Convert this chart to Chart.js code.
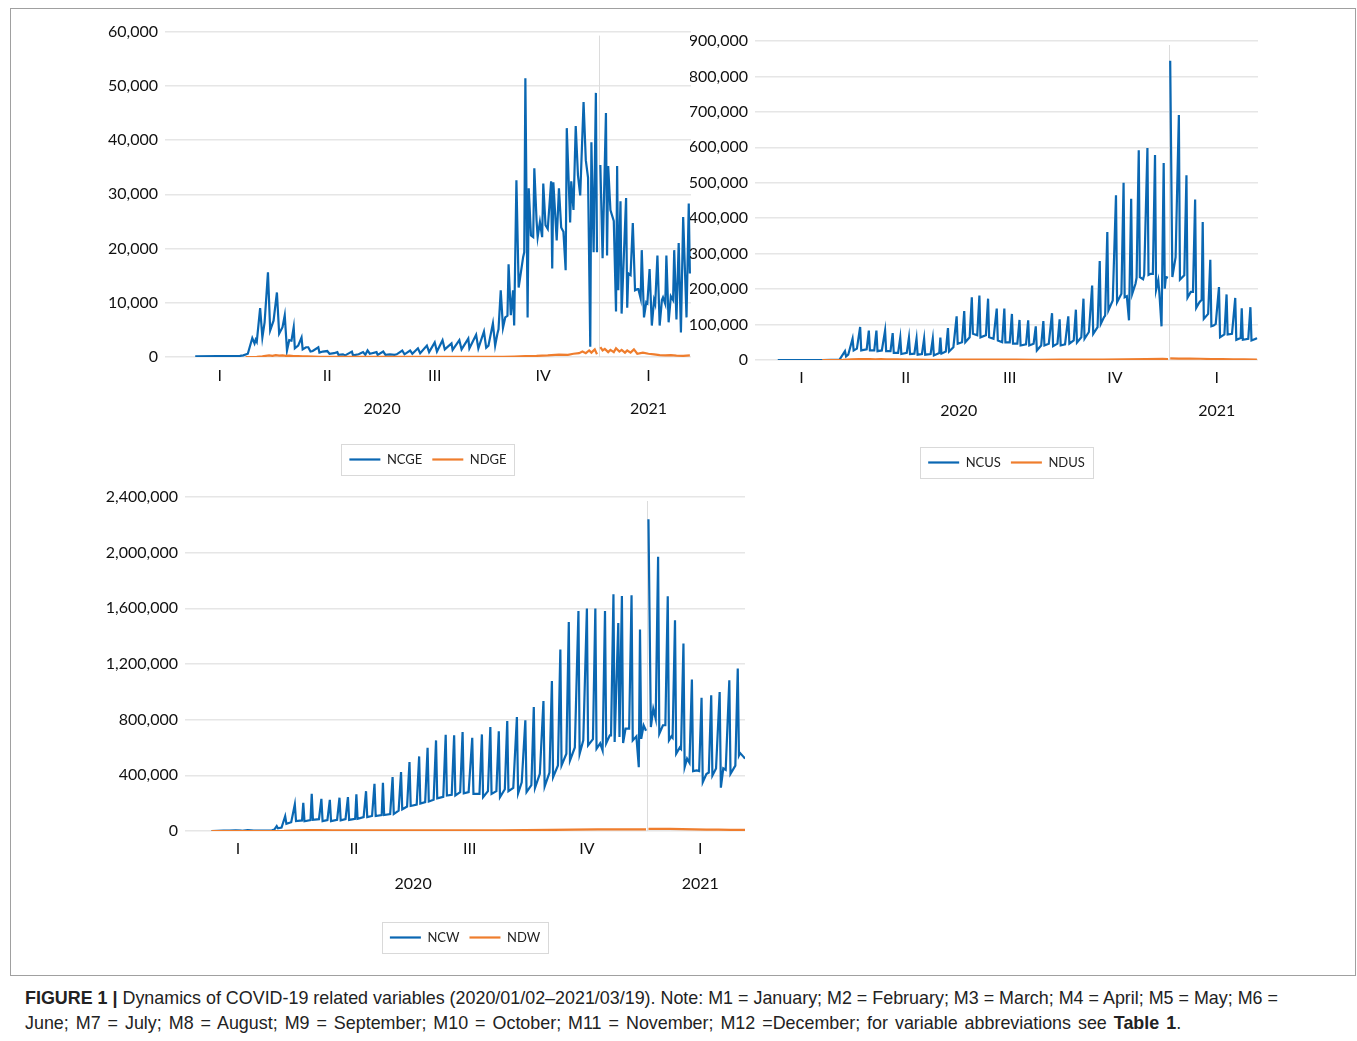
<!DOCTYPE html>
<html><head><meta charset="utf-8">
<script src="https://cdn.jsdelivr.net/npm/chart.js@4.4.1/dist/chart.umd.min.js"></script>
<style>
html,body{margin:0;padding:0;background:#fff;}
#wrap{position:relative;width:1357px;height:1041px;overflow:hidden;background:#fff;}
#frame{position:absolute;left:10px;top:8px;width:1346px;height:968px;border:1px solid #a0a0a0;box-sizing:border-box;}
canvas{position:absolute;}
#cap{position:absolute;left:25px;top:986px;font-family:'Liberation Sans',Arial,sans-serif;font-size:17.9px;line-height:25px;color:#222;white-space:nowrap;}
#cap .l2{word-spacing:2px;}
</style></head><body>
<div id="wrap">
<div id="frame"></div>
<canvas id="c1" width="680" height="461" style="left:20px;top:15px"></canvas>
<canvas id="c2" width="580" height="459" style="left:690px;top:20px"></canvas>
<canvas id="c3" width="740" height="474" style="left:20px;top:480px"></canvas>
<div id="cap"><b>FIGURE 1 |</b> Dynamics of COVID-19 related variables (2020/01/02–2021/03/19). Note: M1 = January; M2 = February; M3 = March; M4 = April; M5 = May; M6 =<br><span class="l2">June; M7 = July; M8 = August; M9 = September; M10 = October; M11 = November; M12 =December; for variable abbreviations see <b>Table 1</b>.</span></div>
</div>
<script>
// ---- tick labels / categories (x = observation index, 0 = 2020/01/02, last = 2021/03/19) ----
const quarterTicks = [22, 118, 214, 311, 405];
const quarterLabels = ['I', 'II', 'III', 'IV', 'I'];
const yearTicks = [167, 405];
const yearLabels = ['2020', '2021'];
const yearBoundary = 360.5;

// ---- series values: [observation index, value] ----
const NCGE = [[0,100],[40,200],[43,300],[47,600],[51,3500],[53,2500],[54,3200],[55,2800],[58,9000],[60,3600],[62,6400],[65,15600],[67,4900],[70,6700],[73,11900],[75,4300],[78,5500],[80,7700],[82,1200],[84,3100],[86,3000],[88,5500],[89,1600],[92,2100],[95,3600],[96,1400],[99,1800],[101,1800],[103,1000],[105,1100],[110,1800],[111,800],[114,1000],[118,1100],[120,600],[124,700],[127,900],[128,400],[132,500],[134,300],[140,1000],[141,300],[146,500],[150,900],[152,400],[154,1200],[156,600],[158,700],[162,900],[163,400],[168,1000],[170,400],[174,500],[178,400],[180,500],[185,1200],[187,500],[192,1200],[194,600],[199,1600],[201,700],[207,2100],[209,900],[214,2700],[216,1000],[221,3100],[223,1400],[229,2500],[230,1300],[236,3100],[238,1400],[244,3400],[245,1600],[251,4100],[253,1600],[258,4700],[260,1700],[262,2100],[266,6200],[268,2100],[270,4300],[271,5100],[273,12300],[275,5400],[277,7300],[279,7600],[280,17100],[282,7700],[284,12300],[285,5800],[287,32600],[289,12800],[293,18400],[294,19300],[295,51400],[297,7300],[298,31100],[300,22400],[302,22100],[303,34800],[305,25200],[306,22100],[308,24900],[310,22100],[311,32000],[313,24300],[315,23600],[318,32400],[319,16300],[320,32200],[323,21500],[325,31100],[327,23900],[329,23100],[331,16000],[332,42200],[335,24800],[336,32400],[338,27100],[340,42600],[342,33500],[344,29800],[347,47000],[349,36300],[351,33100],[353,1900],[354,39600],[356,19300],[358,48700],[359,19300],[360.5,null],[362,35400],[364,18200],[367,45000],[368,18700],[369,35200],[371,27100],[374,25100],[376,8400],[377,35200],[378,12300],[380,28700],[381,8000],[385,29300],[386,9100],[387,15400],[389,15100],[391,24700],[393,12300],[395,12500],[396,12500],[398,10800],[399,19700],[401,7300],[403,10100],[404,9900],[406,16200],[408,5800],[410,10500],[411,9800],[413,18700],[415,5800],[417,10500],[418,11000],[420,9800],[421,18700],[423,6400],[425,11200],[427,10500],[428,19700],[430,6900],[432,21000],[434,4500],[436,25800],[439,7300],[441,28300],[442,15400]];
const NDGE = [[45,0],[55,30],[60,100],[63,200],[66,300],[69,200],[72,350],[75,250],[78,300],[81,200],[84,250],[88,180],[92,150],[96,130],[100,100],[106,70],[112,50],[120,30],[135,10],[160,5],[200,5],[240,8],[260,15],[275,40],[285,80],[295,150],[305,200],[315,300],[325,450],[333,400],[338,600],[343,700],[346,1000],[349,700],[352,1200],[354,800],[357,1400],[359,500],[360.5,null],[362,1800],[364,1200],[366,1500],[369,900],[371,1300],[374,900],[376,1600],[379,1000],[381,1300],[384,800],[386,1200],[389,800],[392,1400],[395,600],[400,800],[405,600],[410,500],[415,350],[420,300],[425,350],[430,250],[436,200],[442,300]];

const NCUS = [[0,0],[41,0],[57,1000],[62,25000],[63,10000],[65,15000],[69,60000],[70,27000],[73,32000],[76,93000],[77,27000],[82,30000],[84,83000],[85,27000],[89,27000],[91,83000],[92,25000],[96,27000],[99,83000],[100,25000],[104,25000],[106,76000],[107,20000],[111,20000],[113,63000],[114,17000],[119,20000],[121,63000],[122,17000],[126,18000],[128,60000],[129,15000],[133,17000],[135,60000],[136,15000],[141,17000],[143,60000],[144,13000],[149,20000],[150,63000],[151,18000],[155,24000],[157,90000],[158,24000],[162,36000],[165,123000],[166,46000],[170,50000],[172,138000],[173,50000],[177,64000],[179,177000],[180,74000],[184,70000],[186,182000],[187,64000],[192,70000],[194,173000],[195,64000],[199,60000],[202,145000],[203,55000],[207,50000],[209,145000],[210,50000],[214,50000],[216,130000],[217,46000],[221,46000],[223,113000],[224,41000],[229,44000],[231,112000],[232,41000],[236,46000],[238,95000],[239,27000],[243,41000],[245,110000],[246,41000],[250,46000],[253,132000],[254,39000],[258,46000],[260,115000],[261,41000],[265,44000],[268,123000],[269,46000],[273,55000],[275,142000],[276,49000],[280,64000],[282,173000],[283,60000],[287,79000],[290,210000],[291,74000],[295,93000],[297,279000],[298,102000],[301,121000],[302,125000],[304,361000],[305,140000],[309,168000],[312,465000],[313,163000],[317,187000],[319,500000],[320,177000],[322,180000],[324,112000],[326,455000],[327,187000],[330,215000],[331,232000],[333,592000],[334,234000],[337,228000],[338,240000],[341,598000],[342,240000],[344,243000],[346,243000],[348,578000],[349,198000],[351,225000],[352,190000],[354,95000],[356,556000],[357,201000],[358,234000],[360,232000],[360.5,null],[362,844000],[364,234000],[367,290000],[370,691000],[371,227000],[375,239000],[377,521000],[378,176000],[381,192000],[383,192000],[385,453000],[386,147000],[389,163000],[391,170000],[392,389000],[393,116000],[397,130000],[399,283000],[400,95000],[402,97000],[404,102000],[407,206000],[408,64000],[412,72000],[414,185000],[415,72000],[419,74000],[422,175000],[423,57000],[427,62000],[428,146000],[429,57000],[434,60000],[436,149000],[437,55000],[441,60000],[442,62000]];
const NDUS = [[41,0],[50,20],[60,300],[68,1500],[75,2500],[80,2200],[85,2800],[90,2000],[95,2300],[100,1800],[110,1500],[120,1000],[130,800],[140,600],[150,600],[160,900],[175,1200],[190,1100],[205,900],[220,800],[240,700],[260,800],[280,900],[300,1300],[320,2000],[340,2500],[355,3000],[360,2800],[360.5,null],[362,4500],[370,4000],[380,3800],[390,3500],[400,2800],[410,2200],[420,1800],[430,1500],[442,1300]];

const NCW = [[0,0],[10,3000],[15,2000],[20,4000],[25,2000],[30,6000],[35,3000],[45,3000],[50,5000],[52,10000],[54,35000],[55,20000],[58,25000],[61,106000],[62,52000],[66,63000],[69,191000],[70,71000],[75,76000],[76,203000],[77,70000],[82,78000],[83,267000],[84,80000],[89,85000],[91,231000],[92,71000],[96,78000],[98,224000],[99,71000],[104,80000],[106,239000],[107,76000],[111,85000],[113,243000],[114,80000],[119,88000],[120,263000],[121,88000],[126,100000],[128,286000],[129,100000],[133,108000],[135,339000],[136,108000],[141,115000],[142,347000],[143,115000],[148,122000],[150,387000],[151,122000],[155,147000],[157,423000],[158,155000],[162,176000],[164,495000],[165,180000],[170,190000],[172,536000],[173,198000],[177,208000],[179,598000],[180,212000],[184,225000],[186,651000],[187,234000],[192,245000],[194,692000],[195,255000],[199,260000],[201,687000],[202,255000],[206,279000],[208,711000],[209,270000],[213,279000],[216,670000],[217,267000],[222,267000],[224,694000],[225,243000],[229,286000],[231,747000],[232,267000],[236,286000],[238,716000],[239,243000],[243,300000],[245,790000],[246,286000],[250,310000],[253,819000],[254,270000],[257,350000],[260,795000],[261,280000],[265,330000],[267,891000],[268,310000],[272,411000],[275,934000],[276,320000],[280,420000],[282,1078000],[283,387000],[287,471000],[289,1304000],[290,471000],[294,555000],[296,1502000],[297,507000],[301,600000],[304,1581000],[305,555000],[308,651000],[311,1598000],[312,615000],[316,660000],[318,1598000],[319,591000],[322,630000],[324,579000],[326,1581000],[327,630000],[330,687000],[331,687000],[333,1701000],[334,639000],[337,1495000],[338,675000],[340,1689000],[341,632000],[343,735000],[346,735000],[348,1694000],[349,651000],[352,680000],[354,459000],[355,1447000],[356,663000],[358,759000],[360,720000],[360.5,null],[362,2240000],[364,747000],[366,879000],[368,807000],[370,1970000],[371,699000],[374,760000],[376,760000],[378,1687000],[379,651000],[381,680000],[382,670000],[384,1514000],[385,555000],[388,600000],[389,590000],[391,1347000],[392,459000],[394,520000],[396,490000],[398,1088000],[399,430000],[402,435000],[404,430000],[406,958000],[407,351000],[410,410000],[412,420000],[414,975000],[415,399000],[418,450000],[421,999000],[422,311000],[424,450000],[426,440000],[429,1083000],[430,411000],[434,470000],[436,1167000],[437,543000],[438,560000],[441,531000],[442,520000]];
const NDW = [[0,50],[40,50],[60,1000],[70,5000],[80,7000],[90,6500],[100,5500],[120,4500],[140,4500],[160,5000],[180,5500],[200,5500],[220,5000],[240,5500],[260,6000],[280,7500],[300,9500],[320,11000],[340,11500],[355,12000],[360,11000],[360.5,null],[362,15000],[370,15500],[380,15000],[390,14000],[400,12000],[410,10500],[420,9500],[430,8500],[442,8500]];

const BLUE = '#0a67b2';
const ORANGE = '#ef7d2d';
const FONT = 'Lato';
Chart.defaults.font.family = FONT;
Chart.defaults.color = '#111';

const boundaryPlugin = {
  id: 'boundary',
  beforeDatasetsDraw(chart) {
    const {ctx, chartArea} = chart;
    const x = Math.round(chart.scales.x.getPixelForValue(yearBoundary)) + 0.5;
    ctx.save();
    ctx.strokeStyle = '#dcdcdc';
    ctx.lineWidth = 1;
    ctx.beginPath();
    ctx.moveTo(x, chartArea.top + 4);
    ctx.lineTo(x, chartArea.bottom);
    ctx.stroke();
    ctx.restore();
  }
};
const legendBoxPlugin = {
  id: 'legendBox',
  afterDraw(chart) {
    const hb = chart.legend && chart.legend.legendHitBoxes;
    if (!hb || !hb.length) return;
    const first = hb[0], last = hb[hb.length - 1];
    const left = first.left - 8, right = last.left + last.width + 8;
    const cy = first.top + first.height / 2;
    const {ctx} = chart;
    ctx.save();
    ctx.strokeStyle = '#d9d9d9';
    ctx.lineWidth = 1;
    ctx.strokeRect(Math.round(left) + 0.5, Math.round(cy - 15.5) + 0.5, Math.round(right - left), 31);
    ctx.restore();
  }
};

function makeChart(id, c) {
  const pts = arr => arr.map(p => ({x: p[0], y: p[1]}));
  return new Chart(document.getElementById(id), {
    type: 'line',
    data: {datasets: [
      {label: c.names[0], data: pts(c.s1), borderColor: BLUE, backgroundColor: BLUE, borderWidth: 2.2, pointRadius: 0, tension: 0, order: 2},
      {label: c.names[1], data: pts(c.s2), borderColor: ORANGE, backgroundColor: ORANGE, borderWidth: 2.2, pointRadius: 0, tension: 0, order: 1}
    ]},
    options: {
      responsive: false, animation: false, spanGaps: false,
      layout: {padding: {top: c.padTop, right: c.padRight, left: 0, bottom: 0}},
      plugins: {
        tooltip: {enabled: false},
        legend: {
          position: 'bottom', fullSize: false,
          labels: {usePointStyle: true, pointStyle: 'line', pointStyleWidth: 31, padding: 10,
                   font: {size: 13, family: FONT}, color: '#222',
                   sort: (a, b) => a.datasetIndex - b.datasetIndex}
        }
      },
      scales: {
        x: {type: 'linear', position: 'bottom', min: c.xmin, max: c.xmax,
            grid: {display: false}, border: {display: false},
            afterBuildTicks: s => { s.ticks = quarterTicks.map(v => ({value: v})); },
            afterFit: s => { s.height = 34; },
            ticks: {autoSkip: false, maxRotation: 0, padding: c.qPad, font: {size: 16}, color: '#111',
                    callback: (v, i) => quarterLabels[i]}},
        x2: {type: 'linear', axis: 'x', position: 'bottom', min: c.xmin, max: c.xmax,
            grid: {display: false}, border: {display: false},
            afterBuildTicks: s => { s.ticks = yearTicks.map(v => ({value: v})); },
            afterFit: s => { s.height = c.x2H; },
            ticks: {autoSkip: false, maxRotation: 0, padding: c.yPad, font: {size: 16}, color: '#111',
                    callback: (v, i) => yearLabels[i]}},
        y: {min: 0, max: c.ymax,
            grid: {color: '#e6e6e6', lineWidth: 1.5, drawTicks: false}, border: {display: false},
            afterFit: s => { s.width = c.yW; },
            ticks: {stepSize: c.step, padding: 7, font: {size: 16}, color: '#111',
                    callback: v => v.toLocaleString('en-US')}}
      }
    },
    plugins: [boundaryPlugin, legendBoxPlugin]
  });
}

makeChart('c1', {names: ['NCGE', 'NDGE'], s1: NCGE, s2: NDGE, ymax: 60000, step: 10000,
  xmin: -27, xmax: 443, yW: 145, padTop: 16, padRight: 9, x2H: 52, qPad: 1, yPad: 0});
makeChart('c2', {names: ['NCUS', 'NDUS'], s1: NCUS, s2: NDUS, ymax: 900000, step: 100000,
  xmin: -21, xmax: 443, yW: 65, padTop: 21, padRight: 12, x2H: 52, qPad: 0, yPad: -1});
makeChart('c3', {names: ['NCW', 'NDW'], s1: NCW, s2: NDW, ymax: 2400000, step: 400000,
  xmin: -22, xmax: 442, yW: 165, padTop: 17, padRight: 15, x2H: 56, qPad: 0, yPad: 1});
</script>
</body></html>
